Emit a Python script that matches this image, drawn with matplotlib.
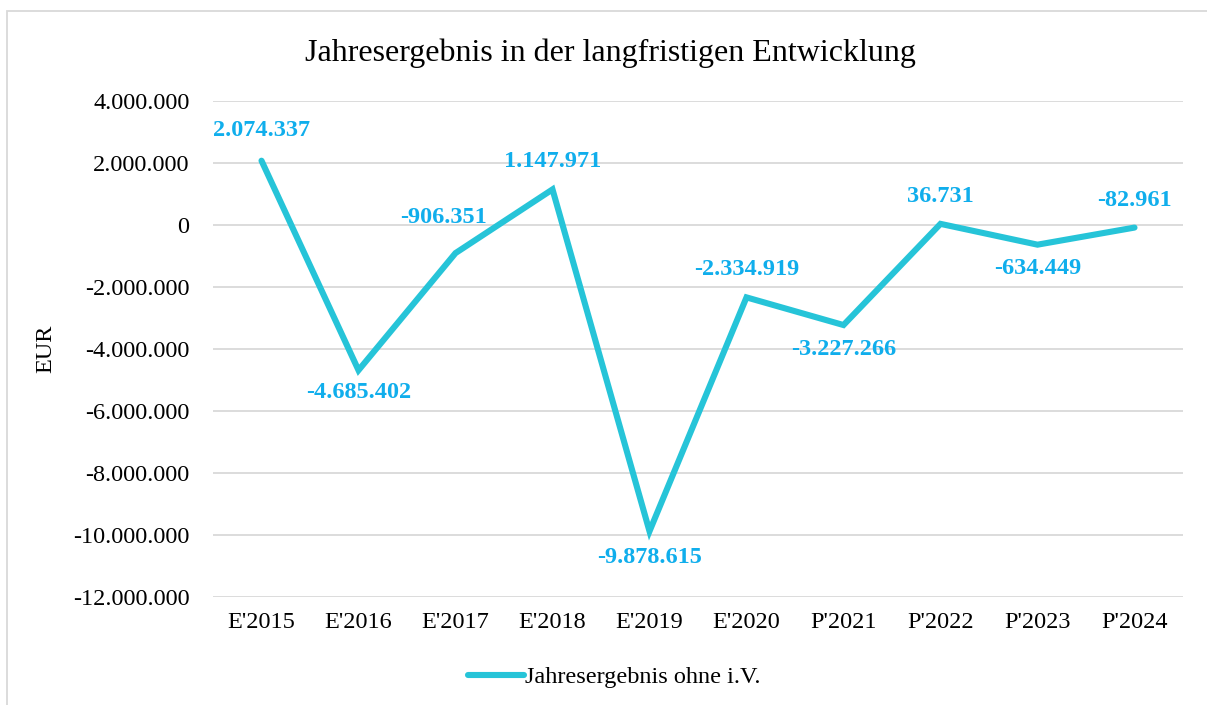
import matplotlib
matplotlib.use("Agg")
import matplotlib.pyplot as plt
from matplotlib.patches import Rectangle
from matplotlib.ticker import FuncFormatter

years = ["E'2015", "E'2016", "E'2017", "E'2018", "E'2019",
         "E'2020", "P'2021", "P'2022", "P'2023", "P'2024"]
ergebnis = [2074337, -4685402, -906351, 1147971, -9878615,
            -2334919, -3227266, 36731, -634449, -82961]
# label offset in pixels (positive dy = above the point)
label_dy = [30, -22, 36, 28, -26, 28, -24, 27, -24, 27]
label_dx = [0, 0, -12, 0, 0, 0, 0, 0, 0, 0]

line_color = "#26C4D8"
label_color = "#10AEEC"


def de_fmt(v, pos=None):
    return f"{int(round(v)):,}".replace(",", ".")


plt.rcParams["font.family"] = ["Liberation Serif", "DejaVu Serif"]

fig = plt.figure(figsize=(12.07, 7.05), dpi=100)
ax = fig.add_axes([213 / 1207, 1 - 597 / 705, 970 / 1207, 496 / 705])

x = list(range(len(years)))
ax.plot(x, ergebnis, color=line_color, lw=4.4, solid_capstyle="round",
        solid_joinstyle="miter", label="Jahresergebnis ohne i.V.", zorder=3)

for xi, v, dx, dy in zip(x, ergebnis, label_dx, label_dy):
    ax.annotate(de_fmt(v), (xi, v), xytext=(dx, dy),
                textcoords="offset pixels", ha="center", va="center",
                color=label_color, fontsize=17.5, fontweight="bold", zorder=4)

ax.set_xlim(-0.5, len(years) - 0.5)
ax.set_ylim(-12000000, 4000000)
ax.set_yticks(range(-12000000, 4000001, 2000000))
ax.yaxis.set_major_formatter(FuncFormatter(de_fmt))
ax.set_xticks(x)
ax.set_xticklabels(years)
ax.tick_params(length=0, labelsize=17.5, colors="#000000", pad=11)
ax.tick_params(axis="y", pad=17)
ax.grid(axis="y", color="#d9d9d9", lw=1.3)
ax.set_axisbelow(True)
for s in ax.spines.values():
    s.set_visible(False)

ax.set_ylabel("EUR", fontsize=17.5, labelpad=12)
fig.text(610 / 1207, 1 - 53 / 705, "Jahresergebnis in der langfristigen Entwicklung",
         ha="center", va="center", fontsize=23)

fig.legend(loc="center", bbox_to_anchor=(614 / 1207, 1 - 677 / 705),
           frameon=False, fontsize=17.5, handlelength=2.3, handletextpad=0.05)

fig.patches.append(Rectangle((7 / 1207, -0.05), 1.1, 1.05 - 11 / 705,
                             transform=fig.transFigure, fill=False,
                             edgecolor="#d9d9d9", lw=1.3))

fig.savefig("out.png", dpi=100)
